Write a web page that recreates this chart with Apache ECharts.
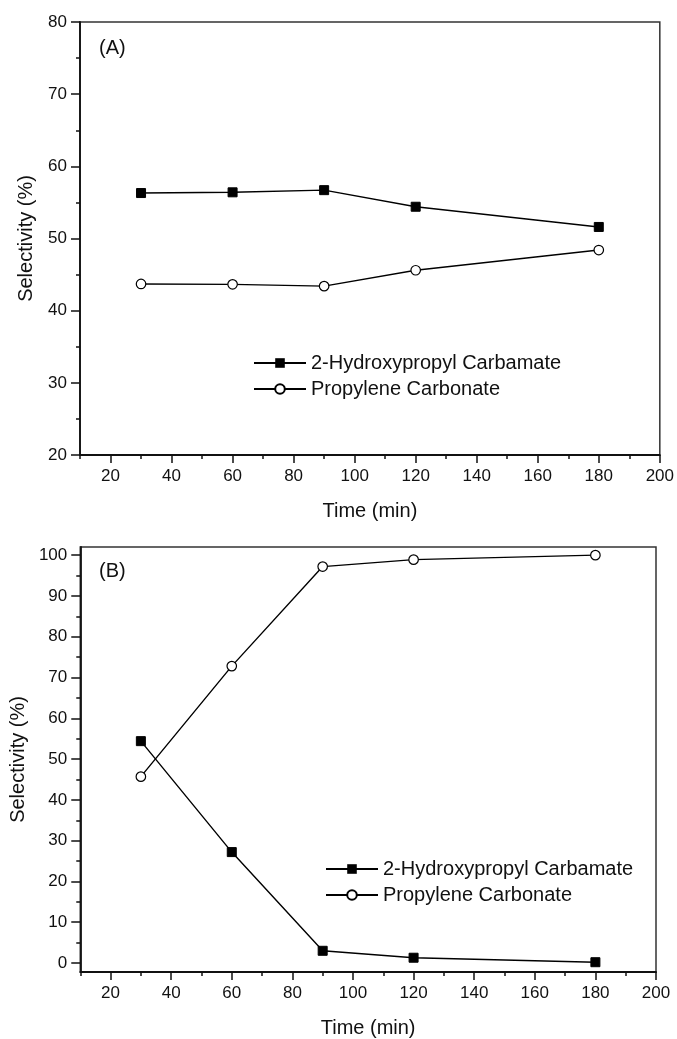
<!DOCTYPE html>
<html>
<head>
<meta charset="utf-8">
<script src="https://cdn.jsdelivr.net/npm/echarts@6/dist/echarts.min.js"></script>
<style>
html,body{margin:0;padding:0;background:#fff;}
#chart{width:677px;height:1039px;}
</style>
</head>
<body>
<div id="chart"></div>
<script>
// ---- data ----
const times = [30, 60, 90, 120, 180];
const seriesNames = ['2-Hydroxypropyl Carbamate', 'Propylene Carbonate'];
const hpcA = [56.3, 56.4, 56.7, 54.4, 51.6];
const pcA = [43.7, 43.65, 43.4, 45.6, 48.4];
const hpcB = [54.4, 27.2, 3.0, 1.3, 0.2];
const pcB = [45.7, 72.8, 97.2, 98.9, 100.0];
// ---- ticks ----
const xMajor = [20, 40, 60, 80, 100, 120, 140, 160, 180, 200];
const xMinor = [10, 30, 50, 70, 90, 110, 130, 150, 170, 190];
const yMajorA = [20, 30, 40, 50, 60, 70, 80];
const yMinorA = [25, 35, 45, 55, 65, 75];
const yMajorB = [0, 10, 20, 30, 40, 50, 60, 70, 80, 90, 100];
const yMinorB = [5, 15, 25, 35, 45, 55, 65, 75, 85, 95];

const FONT = '"Liberation Sans", Arial, sans-serif';
const INK = '#111';
const axisLineStyle = {color: INK, width: 1.8};

function xAxes(gi) {
  return [
    {gridIndex: gi, type: 'value', position: 'bottom', min: 10, max: 200,
     axisLine: {show: true, onZero: false, lineStyle: axisLineStyle},
     axisTick: {show: true, customValues: xMajor, length: 8, lineStyle: {color: INK, width: 1.5}},
     axisLabel: {show: true, customValues: xMajor, fontSize: 17, color: INK, margin: 13, fontFamily: FONT},
     splitLine: {show: false},
     name: 'Time (min)', nameLocation: 'middle', nameGap: 46,
     nameTextStyle: {fontSize: 20, color: INK, fontFamily: FONT}},
    {gridIndex: gi, type: 'value', position: 'bottom', min: 10, max: 200,
     axisLine: {show: false, onZero: false},
     axisTick: {show: true, customValues: xMinor, length: 4, lineStyle: {color: INK, width: 1.5}},
     axisLabel: {show: false},
     splitLine: {show: false}}
  ];
}
function yAxes(gi, mn, mx, major, minor, gap) {
  return [
    {gridIndex: gi, type: 'value', position: 'left', min: mn, max: mx,
     axisLine: {show: true, onZero: false, lineStyle: axisLineStyle},
     axisTick: {show: true, customValues: major, length: 9, lineStyle: {color: INK, width: 1.5}},
     axisLabel: {show: true, customValues: major, fontSize: 17, color: INK, margin: 13, fontFamily: FONT},
     splitLine: {show: false},
     name: 'Selectivity (%)', nameLocation: 'middle', nameGap: gap,
     nameTextStyle: {fontSize: 20, color: INK, fontFamily: FONT}},
    {gridIndex: gi, type: 'value', position: 'left', min: mn, max: mx,
     axisLine: {show: false, onZero: false},
     axisTick: {show: true, customValues: minor, length: 4, lineStyle: {color: INK, width: 1.5}},
     axisLabel: {show: false},
     splitLine: {show: false}}
  ];
}
function pairs(xs, ys) { return xs.map((x, i) => [x, ys[i]]); }
function hpcSeries(xi, yi, vals) {
  return {name: seriesNames[0], type: 'line', xAxisIndex: xi, yAxisIndex: yi,
    data: pairs(times, vals), symbol: 'rect', symbolSize: 9,
    lineStyle: {color: '#000', width: 1.4}, itemStyle: {color: '#000', borderColor: '#000'}, z: 3};
}
function pcSeries(xi, yi, vals) {
  return {name: seriesNames[1], type: 'line', xAxisIndex: xi, yAxisIndex: yi,
    data: pairs(times, vals), symbol: 'circle', symbolSize: 9.5, showAllSymbol: true,
    lineStyle: {color: '#000', width: 1.4}, itemStyle: {color: '#fff', borderColor: '#000', borderWidth: 1.2}, z: 3};
}

const chart = echarts.init(document.getElementById('chart'), null, {renderer: 'canvas'});
const legendCommon = {orient: 'vertical', itemWidth: 52, itemHeight: 12, itemGap: 6, padding: 0,
  data: seriesNames, selectedMode: false,
  textStyle: {fontSize: 20, color: INK, fontFamily: FONT, lineHeight: 20}};
chart.setOption({
  animation: false,
  backgroundColor: '#fff',
  textStyle: {fontFamily: FONT},
  grid: [
    {left: 80, top: 22, width: 582, height: 433, show: true, borderColor: '#333', borderWidth: 1.5, backgroundColor: 'transparent'},
    {left: 79, top: 547, width: 577, height: 430, show: true, borderColor: '#333', borderWidth: 1.5, backgroundColor: 'transparent'}
  ],
  xAxis: [].concat(xAxes(0), xAxes(1)),
  yAxis: [].concat(yAxes(0, 20, 80, yMajorA, yMinorA, 44), yAxes(1, -2.2, 102, yMajorB, yMinorB, 44)),
  legend: [
    Object.assign({left: 253, top: 353}, legendCommon),
    Object.assign({left: 325, top: 859}, legendCommon)
  ],
  graphic: [
    {type: 'text', left: 99, top: 38, style: {text: '(A)', fontSize: 20, fill: INK, fontFamily: FONT}},
    {type: 'text', left: 99, top: 561, style: {text: '(B)', fontSize: 20, fill: INK, fontFamily: FONT}}
  ],
  series: [
    hpcSeries(0, 0, hpcA), pcSeries(0, 0, pcA),
    hpcSeries(2, 2, hpcB), pcSeries(2, 2, pcB)
  ]
});
</script>
</body>
</html>
